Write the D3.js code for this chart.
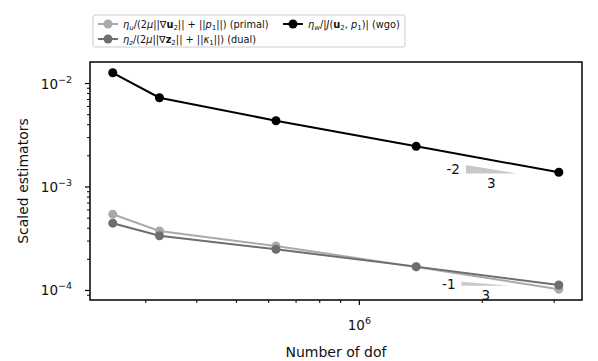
<!DOCTYPE html>
<html><head><meta charset="utf-8">
<script src="https://cdn.jsdelivr.net/npm/d3@7"></script>
<style>
body{margin:0;background:#fff;}
svg{font-family:"DejaVu Sans",sans-serif;}
</style></head>
<body><svg id="c" width="598" height="361"></svg>
<script>
const dofs = [2.49e5, 3.24e5, 6.25e5, 1.378e6, 3.08e6];
const primal = [5.45e-4, 3.76e-4, 2.69e-4, 1.69e-4, 1.03e-4];
const dual = [4.47e-4, 3.38e-4, 2.50e-4, 1.70e-4, 1.13e-4];
const wgo = [0.0127, 0.00729, 0.00437, 0.00247, 0.001388];
const yTicks = [1e-4, 1e-3, 1e-2];
const yTickExp = ["−4", "−3", "−2"];
const xTicks = [1e6];
const xTickExp = ["6"];
const seriesNames = ["primal", "dual", "wgo"];
const seriesColors = ["#aaaaaa", "#6e6e6e", "#000000"];
// slope triangles: [x0, x1, yTop, slope, slopeLabel, runLabel]
const slopeTris = [
  [1.824e6, 2.43e6, 1.634e-3, -2/3, "-2", "3"],
  [1.78e6, 2.34e6, 1.216e-4, -1/3, "-1", "3"]
];

const svg = d3.select("#c");
const L = 90, R = 582, T = 62, B = 300;
const x = d3.scaleLog().domain([2.19e5, 3.51e6]).range([L, R]);
const y = d3.scaleLog().domain([8.09e-5, 0.01614]).range([B, T]);

// minor ticks
const xMinor = [];
for (let e = 5; e <= 6; e++) for (let m = 2; m <= 9; m++) { const v = m * Math.pow(10, e); if (v > x.domain()[0] && v < x.domain()[1]) xMinor.push(v); }
const yMinor = [];
for (let e = -5; e <= -2; e++) for (let m = 2; m <= 9; m++) { const v = m * Math.pow(10, e); if (v > y.domain()[0] && v < y.domain()[1]) yMinor.push(v); }

const ax = svg.append("g");
ax.selectAll(".xm").data(xMinor).join("line").attr("x1", d => x(d)).attr("x2", d => x(d)).attr("y1", B).attr("y2", B + 3).attr("stroke", "#000").attr("stroke-width", 1);
ax.selectAll(".xM").data(xTicks).join("line").attr("x1", d => x(d)).attr("x2", d => x(d)).attr("y1", B).attr("y2", B + 5).attr("stroke", "#000").attr("stroke-width", 1.2);
ax.selectAll(".ym").data(yMinor).join("line").attr("y1", d => y(d)).attr("y2", d => y(d)).attr("x1", L).attr("x2", L - 3).attr("stroke", "#000").attr("stroke-width", 1);
ax.selectAll(".yM").data(yTicks).join("line").attr("y1", d => y(d)).attr("y2", d => y(d)).attr("x1", L).attr("x2", L - 5).attr("stroke", "#000").attr("stroke-width", 1.2);

// tick labels
yTicks.forEach((v, i) => {
  const t = svg.append("text").attr("x", L - 18).attr("y", y(v) + 5).attr("text-anchor", "end").attr("font-size", 13.5).attr("fill", "#111");
  t.append("tspan").text("10");
  t.append("tspan").attr("font-size", 9.5).attr("dy", -6).text(yTickExp[i]);
});
xTicks.forEach((v, i) => {
  const t = svg.append("text").attr("x", x(v)).attr("y", B + 30).attr("text-anchor", "middle").attr("font-size", 13.5).attr("fill", "#111");
  t.append("tspan").text("10");
  t.append("tspan").attr("font-size", 9.5).attr("dy", -6).text(xTickExp[i]);
});

svg.append("text").attr("x", (L + R) / 2).attr("y", 357).attr("text-anchor", "middle").attr("font-size", 14).attr("fill", "#111").text("Number of dof");
svg.append("text").attr("transform", `translate(28,${(T + B) / 2}) rotate(-90)`).attr("text-anchor", "middle").attr("font-size", 14).attr("fill", "#111").text("Scaled estimators");

// slope triangles
slopeTris.forEach(([x0, x1, yt, s, lab, run]) => {
  const yb = yt * Math.pow(x1 / x0, s);
  svg.append("path").attr("d", `M${x(x0)},${y(yt)}L${x(x1)},${y(yb)}L${x(x0)},${y(yb)}Z`).attr("fill", "#c8c8c8");
  svg.append("text").attr("x", x(x0) - 6).attr("y", (y(yt) + y(yb)) / 2 + 5).attr("text-anchor", "end").attr("font-size", 13.5).attr("fill", "#111").text(lab);
  svg.append("text").attr("x", (x(x0) + x(x1)) / 2).attr("y", y(yb) + 14).attr("text-anchor", "middle").attr("font-size", 13.5).attr("fill", "#111").text(run);
});

// series
const allSeries = [primal, dual, wgo];
const line = d3.line().x((d, i) => x(dofs[i])).y(d => y(d));
allSeries.forEach((s, k) => {
  const g = svg.append("g");
  g.append("path").datum(s).attr("d", line).attr("fill", "none").attr("stroke", seriesColors[k]).attr("stroke-width", 2);
  g.selectAll("circle").data(s).join("circle").attr("cx", (d, i) => x(dofs[i])).attr("cy", d => y(d)).attr("r", 4.5).attr("fill", seriesColors[k]);
});

// frame
svg.append("rect").attr("x", L).attr("y", T).attr("width", R - L).attr("height", B - T).attr("fill", "none").attr("stroke", "#000").attr("stroke-width", 1.5);

// legend
const lg = svg.append("g");
lg.append("rect").attr("x", 93).attr("y", 15).attr("width", 312).attr("height", 32).attr("rx", 2).attr("fill", "#fff").attr("fill-opacity", 0.8).attr("stroke", "#cccccc").attr("stroke-width", 1);
const entries = [
  {k: 0, lx: 98, ly: 24},
  {k: 1, lx: 98, ly: 39},
  {k: 2, lx: 283, ly: 24}
];
function addLabel(t, k) {
  let pending = 0;
  const add = () => { const s = t.append("tspan"); if (pending) { s.attr("dy", pending); pending = 0; } return s; };
  const sub = (txt, it) => { add().attr("font-size", 7).attr("dy", 2.5).attr("font-style", it ? "italic" : null).text(txt); pending = -2.5; };
  const it = txt => add().attr("font-style", "italic").text(txt);
  const n = txt => add().text(txt);
  const b = txt => add().attr("font-weight", "bold").text(txt);
  if (k === 0) { it("η"); sub("u", true); n("/(2"); it("μ"); n("||∇"); b("u"); sub("2"); n("|| + ||"); it("p"); sub("1"); n("||) (primal)"); }
  if (k === 1) { it("η"); sub("z", true); n("/(2"); it("μ"); n("||∇"); b("z"); sub("2"); n("|| + ||"); it("κ"); sub("1"); n("||) (dual)"); }
  if (k === 2) { it("η"); sub("w", true); n("/|"); it("J"); n("("); b("u"); sub("2"); n(", "); it("p"); sub("1"); n(")| (wgo)"); }
}
entries.forEach(e => {
  lg.append("line").attr("x1", e.lx).attr("x2", e.lx + 20).attr("y1", e.ly).attr("y2", e.ly).attr("stroke", seriesColors[e.k]).attr("stroke-width", 2);
  lg.append("circle").attr("cx", e.lx + 10).attr("cy", e.ly).attr("r", 4.5).attr("fill", seriesColors[e.k]);
  const t = lg.append("text").attr("x", e.lx + 25).attr("y", e.ly + 3.5).attr("font-size", 9.8).attr("fill", "#111");
  addLabel(t, e.k);
});
</script></body></html>
